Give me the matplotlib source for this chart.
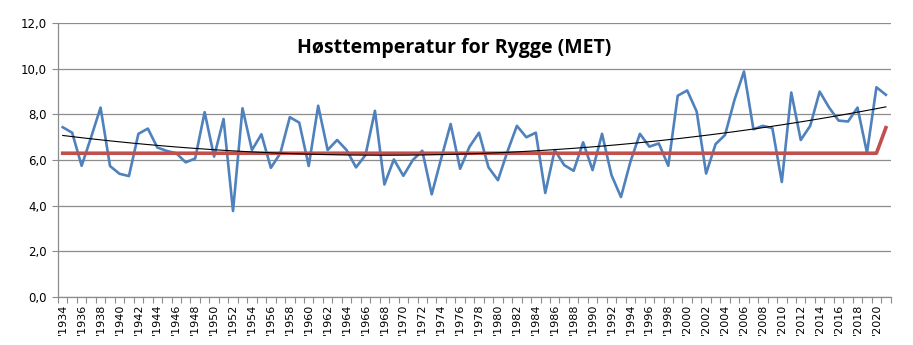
import matplotlib.pyplot as plt
import numpy as np
from matplotlib.ticker import FixedLocator, FuncFormatter

years = list(range(1934, 2022))
temps = [
    7.44, 7.20, 5.75, 7.00, 8.30, 5.74, 5.40, 5.30, 7.15, 7.38,
    6.55, 6.40, 6.30, 5.90, 6.07, 8.10, 6.15, 7.80, 3.77, 8.27,
    6.44, 7.13, 5.66, 6.30, 7.88, 7.64, 5.74, 8.38, 6.44, 6.88,
    6.44, 5.68, 6.22, 8.16, 4.93, 6.03, 5.31, 6.00, 6.41, 4.50,
    6.07, 7.58, 5.62, 6.59, 7.20, 5.68, 5.12, 6.37, 7.50, 7.00,
    7.20, 4.56, 6.44, 5.78, 5.53, 6.78, 5.56, 7.15, 5.34, 4.38,
    5.93, 7.15, 6.59, 6.73, 5.75, 8.82, 9.05, 8.13, 5.41, 6.70,
    7.10, 8.64, 9.88, 7.35, 7.50, 7.40, 5.04, 8.96, 6.88, 7.50,
    9.00, 8.30, 7.73, 7.69, 8.30, 6.32, 9.19, 8.86,
]
normal = [6.3] * 87 + [7.42]
title = "Høsttemperatur for Rygge (MET)"

BLUE = "#4F81BD"
RED = "#C0504D"
GRID = "#8C8C8C"

x = np.arange(len(years))
coef = np.polyfit(x, temps, 2)
trend = np.polyval(coef, x)

fig = plt.figure(figsize=(9.13, 3.45), dpi=100)
ax = fig.add_axes([0.0635, 0.139, 0.912, 0.794])

ax.plot(x, temps, color=BLUE, lw=1.9, zorder=3)
ax.plot(x, normal, color=RED, lw=2.6, zorder=4)
ax.plot(x, trend, color="black", lw=0.8, zorder=5)

ax.set_xlim(-0.5, len(years) - 0.5)
ax.set_ylim(0, 12)
ax.set_yticks(np.arange(0, 12.1, 2))
ax.yaxis.set_major_formatter(FuncFormatter(lambda v, p: f"{v:.1f}".replace(".", ",")))
ax.grid(axis="y", color=GRID, lw=0.9, zorder=0)

# tick marks between categories, labels every second year
ax.xaxis.set_major_locator(FixedLocator(np.arange(-0.5, len(years), 1.0)))
ax.xaxis.set_major_formatter(FuncFormatter(lambda v, p: ""))
ax.xaxis.set_minor_locator(FixedLocator(x[::2]))
ax.set_xticklabels([f"'{y}" for y in years[::2]], minor=True, rotation=90,
                   fontsize=8, family="DejaVu Sans")
ax.tick_params(axis="x", which="major", length=4, color=GRID, width=0.8)
ax.tick_params(axis="x", which="minor", length=0, pad=5)
ax.tick_params(axis="y", length=4, color=GRID, width=0.8, labelsize=8.5, pad=4)

for side in ("top", "right"):
    ax.spines[side].set_visible(False)
for side in ("left", "bottom"):
    ax.spines[side].set_color(GRID)
    ax.spines[side].set_linewidth(0.9)

fig.text(0.497, 0.86, title, ha="center", va="center", fontsize=14,
         fontweight="bold", family="Open Sans")

fig.savefig("out.png", dpi=100)
